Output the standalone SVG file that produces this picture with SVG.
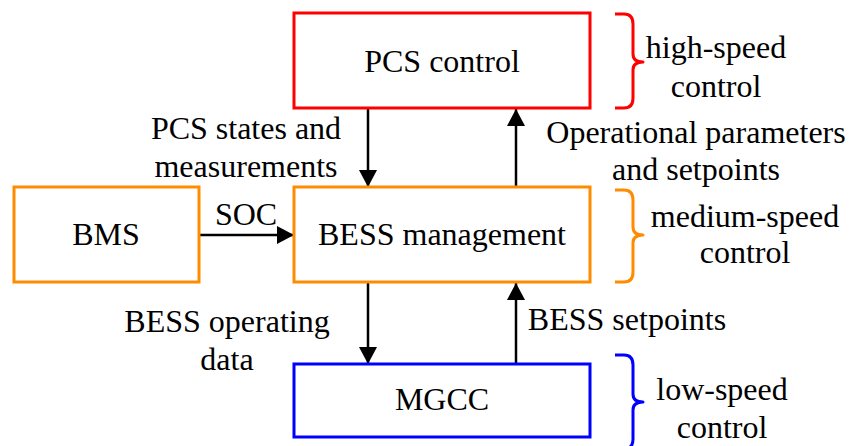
<svg xmlns="http://www.w3.org/2000/svg" width="850" height="446" viewBox="0 0 850 446">
<style>
  .box { fill: #fff; stroke-width: 3; }
  .red { stroke: #FF0000; }
  .orange { stroke: #FF8C00; }
  .blue { stroke: #0000FF; }
  .conn { stroke: #000; stroke-width: 2.5; fill: none; marker-end: url(#ah); }
  .brace { fill: none; stroke-width: 3; stroke-linejoin: round; }
</style>
<defs>
  <marker id="ah" markerUnits="userSpaceOnUse" markerWidth="18" markerHeight="18" viewBox="0 0 17 18" refX="17" refY="9" orient="auto">
    <path d="M0,0 L17,9 L0,18 Z" fill="#000"/>
  </marker>
</defs>
<rect width="850" height="446" fill="#fff"/>
<g id="connectors">
  <line class="conn" x1="368" y1="108" x2="368" y2="187"/>
  <line class="conn" x1="516" y1="187" x2="516" y2="109"/>
  <line class="conn" x1="199" y1="235" x2="294" y2="235"/>
  <line class="conn" x1="368" y1="282" x2="368" y2="364"/>
  <line class="conn" x1="516" y1="364" x2="516" y2="283"/>
  <text font-family="Liberation Serif" font-size="32" text-anchor="middle" x="246" y="139">PCS states and</text>
  <text font-family="Liberation Serif" font-size="32" text-anchor="middle" x="246" y="177">measurements</text>
  <text font-family="Liberation Serif" font-size="32" text-anchor="middle" x="696" y="143">Operational parameters</text>
  <text font-family="Liberation Serif" font-size="32" text-anchor="middle" x="696" y="180">and setpoints</text>
  <text font-family="Liberation Serif" font-size="32" text-anchor="middle" x="246" y="225">SOC</text>
  <text font-family="Liberation Serif" font-size="32" text-anchor="middle" x="227" y="332">BESS operating</text>
  <text font-family="Liberation Serif" font-size="32" text-anchor="middle" x="227" y="370">data</text>
  <text font-family="Liberation Serif" font-size="32" text-anchor="middle" x="627" y="330">BESS setpoints</text>
</g>
<g id="pcs">
  <rect class="box red" x="294" y="13" width="296" height="95"/>
  <text font-family="Liberation Serif" font-size="32" text-anchor="middle" x="442" y="72">PCS control</text>
</g>
<g id="bms">
  <rect class="box orange" x="14" y="187" width="185" height="95"/>
  <text font-family="Liberation Serif" font-size="32" text-anchor="middle" x="106" y="245">BMS</text>
</g>
<g id="bess">
  <rect class="box orange" x="294" y="187" width="296" height="95"/>
  <text font-family="Liberation Serif" font-size="32" text-anchor="middle" x="442" y="245">BESS management</text>
</g>
<g id="mgcc">
  <rect class="box blue" x="294" y="364" width="296" height="73"/>
  <text font-family="Liberation Serif" font-size="32" text-anchor="middle" x="442" y="410">MGCC</text>
</g>
<g id="high-speed">
  <path class="brace red" d="M615,14 L624,14 Q633,14 633,24 L633,54 Q633,62 643,62 Q633,62 633,70 L633,98 Q633,108 624,108 L615,108"/>
  <text font-family="Liberation Serif" font-size="32" text-anchor="middle" x="716" y="58">high-speed</text>
  <text font-family="Liberation Serif" font-size="32" text-anchor="middle" x="716" y="97">control</text>
</g>
<g id="medium-speed">
  <path class="brace orange" d="M615,190 L624,190 Q633,190 633,200 L633,227 Q633,235 643,235 Q633,235 633,243 L633,272 Q633,282 624,282 L615,282"/>
  <text font-family="Liberation Serif" font-size="32" text-anchor="middle" x="745" y="227">medium-speed</text>
  <text font-family="Liberation Serif" font-size="32" text-anchor="middle" x="745" y="263">control</text>
</g>
<g id="low-speed">
  <path class="brace blue" d="M615,355 L624,355 Q633,355 633,365 L633,394 Q633,402 643,402 Q633,402 633,410 L633,439 Q633,449 624,449 L615,449"/>
  <text font-family="Liberation Serif" font-size="32" text-anchor="middle" x="722" y="400">low-speed</text>
  <text font-family="Liberation Serif" font-size="32" text-anchor="middle" x="722" y="438">control</text>
</g>
</svg>
